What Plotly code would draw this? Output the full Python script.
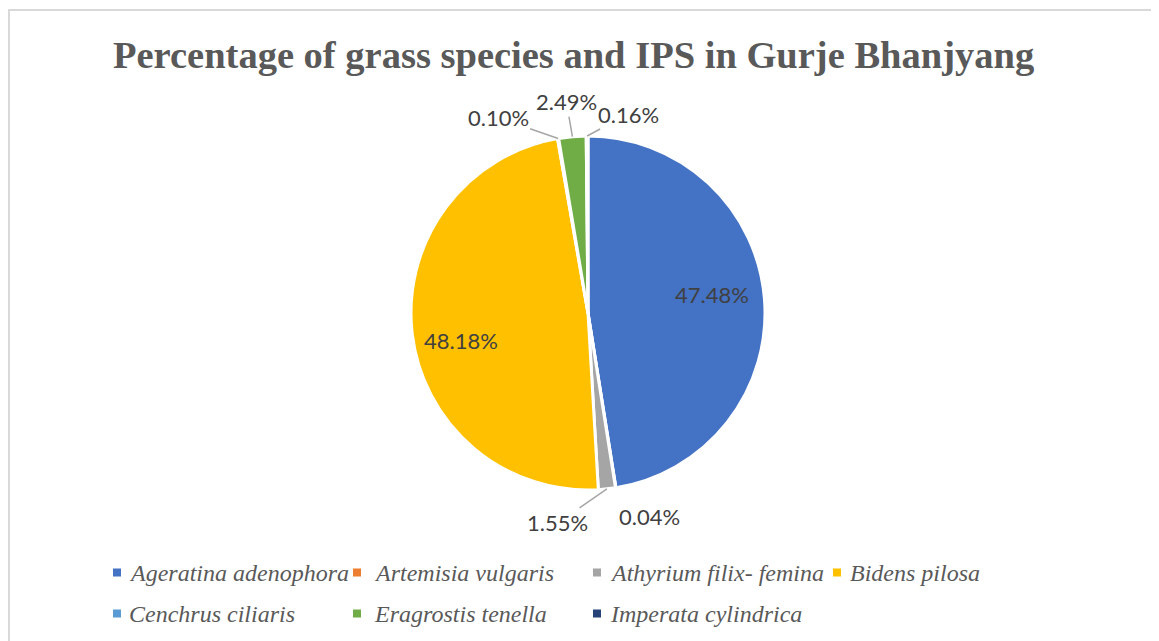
import math
import plotly.graph_objs as go

# data
species = [
    "Ageratina adenophora",
    "Artemisia vulgaris",
    "Athyrium filix- femina",
    "Bidens pilosa",
    "Cenchrus ciliaris",
    "Eragrostis tenella",
    "Imperata cylindrica",
]
percent = [47.48, 0.04, 1.55, 48.18, 0.10, 2.49, 0.16]
colors = ["#4472C4", "#ED7D31", "#A5A5A5", "#FFC000", "#5B9BD5", "#70AD47", "#264478"]

# the page has an 8px body margin, so the figure is a bit smaller than the window
OFF = 8
W, H = 1159 - OFF, 641 - OFF
CX, CY, R = 588 - OFF, 313 - OFF, 177  # pie centre / radius in figure px

# label offset (dx, dy) in px from the slice's outer edge, and whether a leader line shows
label_offsets = {
    0: (-52, -5, False),
    1: (34, 29, False),
    2: (-49, 34, True),
    3: (49, 7, False),
    4: (-60, -21, True),
    5: (-6, -35, True),
    6: (41, -22, True),
}

# legend layout (page px): text column starts and row centres
LEG_COLS = [127, 372, 608, 848]
LEG_ROWS = [573, 614]
PER_ROW = 4

fig = go.Figure()
fig.add_trace(go.Pie(
    labels=species,
    values=percent,
    sort=False,
    direction="clockwise",
    rotation=0,
    marker=dict(colors=colors, line=dict(color="white", width=3)),
    textinfo="none",
    domain=dict(x=[(CX - R) / W, (CX + R) / W], y=[1 - (CY + R) / H, 1 - (CY - R) / H]),
    showlegend=False,
    hoverinfo="label+value",
))

# legend swatches (two rows -> two legends); the serif italic names are set as text
# next to them because the legend would not take the serif family here
leg_font = dict(family="Liberation Serif", size=24, color="#595959")
for i, (name, col) in enumerate(zip(species, colors)):
    row, c = divmod(i, PER_ROW)
    fig.add_trace(go.Scatter(
        x=[None], y=[None], mode="markers", name=" ",
        marker=dict(symbol="square", size=8, color=col),
        legend="legend" if row == 0 else "legend2",
        hoverinfo="skip",
    ))
    fig.add_annotation(
        x=(LEG_COLS[c] - OFF) / W, y=1 - (LEG_ROWS[row] - OFF) / H,
        xref="paper", yref="paper", showarrow=False,
        xanchor="left", yanchor="middle",
        text=f"<i>{name}</i>", font=leg_font,
    )

# data labels, anchored at the edge of each slice's bisector
cum = 0.0
total = sum(percent)
for i, v in enumerate(percent):
    mid = (cum + v / 2) / total * 2 * math.pi
    cum += v
    dx, dy, line = label_offsets[i]
    px = CX + R * math.sin(mid)
    py = CY - R * math.cos(mid)
    fig.add_annotation(
        x=px / W, y=1 - py / H, xref="paper", yref="paper",
        text=f"{v:.2f}%", showarrow=True, arrowhead=0, arrowwidth=1.5,
        arrowcolor="#A6A6A6" if line else "rgba(0,0,0,0)",
        ax=dx, ay=dy, standoff=0,
        font=dict(family="Lato", size=22, color="#404040"),
    )

fig.add_annotation(
    x=(573.5 - OFF) / W, y=1 - (55 - OFF) / H, xref="paper", yref="paper", showarrow=False,
    text="<b>Percentage of grass species and IPS in Gurje Bhanjyang</b>",
    font=dict(family="Liberation Serif", size=38.5, color="#595959"),
    xanchor="center", yanchor="middle",
)

# chart frame
fig.add_shape(type="rect", xref="paper", yref="paper",
              x0=1 / W, x1=1.05, y0=-0.05, y1=1 - (10 - OFF) / H,
              line=dict(color="#D9D9D9", width=2))

legend_style = dict(
    orientation="h", xanchor="left", yanchor="middle", x=(97 - OFF) / W,
    font=dict(size=24, color="#595959"),
    entrywidth=195, itemwidth=30, bgcolor="rgba(0,0,0,0)",
)

fig.update_layout(
    width=W, height=H,
    paper_bgcolor="white", plot_bgcolor="white",
    margin=dict(l=0, r=0, t=0, b=0),
    xaxis=dict(visible=False), yaxis=dict(visible=False),
    legend=dict(y=1 - (LEG_ROWS[0] - OFF) / H, **legend_style),
    legend2=dict(y=1 - (LEG_ROWS[1] - OFF) / H, **legend_style),
)

fig.write_html("out.html")
